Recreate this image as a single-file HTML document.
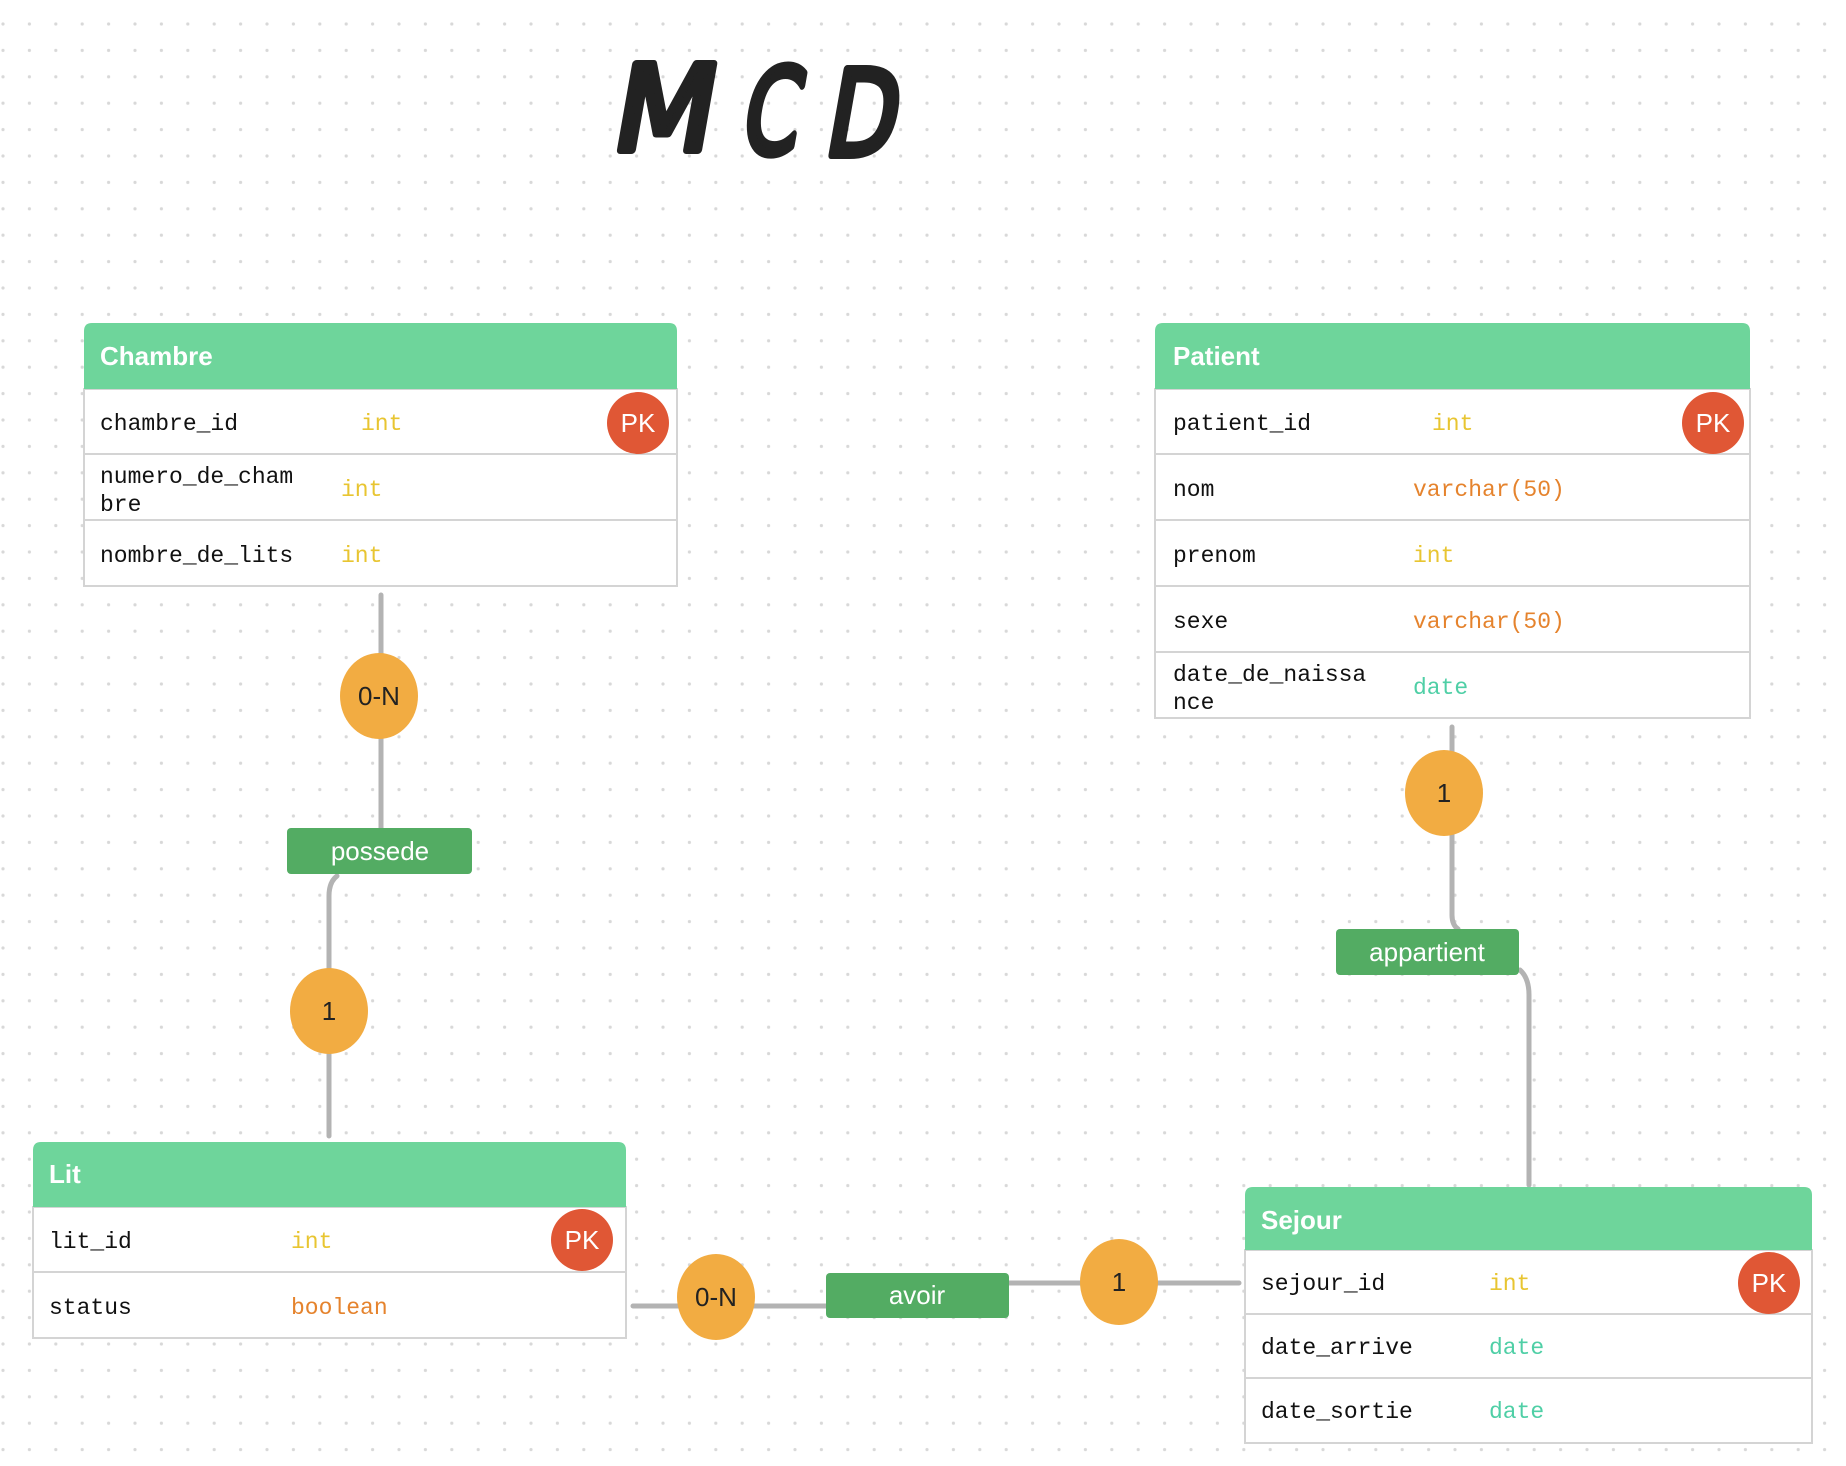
<!DOCTYPE html>
<html><head><meta charset="utf-8"><style>
html,body{margin:0;padding:0;background:#fff;}
svg{display:block;}
.h{font-family:"Liberation Sans",sans-serif;font-weight:bold;font-size:26px;fill:#fff;}
.f{font-family:"Liberation Mono",monospace;font-size:23px;fill:#111;}
.i{fill:#e8c531;} .v{fill:#e5832d;} .d{fill:#4fcfa6;}
.pk{font-family:"Liberation Sans",sans-serif;font-size:26px;fill:#fff;text-anchor:middle;}
.c{font-family:"Liberation Sans",sans-serif;font-size:26px;fill:#222;text-anchor:middle;}
.l{font-family:"Liberation Sans",sans-serif;font-size:26px;fill:#fff;text-anchor:middle;}
.ln{stroke:#b3b3b3;stroke-width:5;fill:none;stroke-linecap:round;}
.row{fill:#fff;stroke:#d4d4d4;stroke-width:2;}
</style></head><body>
<svg width="1846" height="1466" viewBox="0 0 1846 1466" xmlns="http://www.w3.org/2000/svg">
<defs><pattern id="dots" x="3" y="24" width="26.4" height="26.4" patternUnits="userSpaceOnUse"><circle cx="0" cy="0" r="1.6" fill="#d8d8d8"/><circle cx="26.4" cy="0" r="1.6" fill="#d8d8d8"/><circle cx="0" cy="26.4" r="1.6" fill="#d8d8d8"/><circle cx="26.4" cy="26.4" r="1.6" fill="#d8d8d8"/></pattern></defs>
<rect width="1846" height="1466" fill="url(#dots)"/>

<!-- title -->
<g font-family="DejaVu Sans,sans-serif" font-weight="normal" fill="#222" stroke="#222" stroke-width="8" stroke-linejoin="round" stroke-linecap="round">
<text x="610" y="150" font-size="118" textLength="100" lengthAdjust="spacingAndGlyphs" transform="skewX(-10) translate(26,0)">M</text>
<text x="740" y="153" font-size="118" textLength="56" lengthAdjust="spacingAndGlyphs" transform="skewX(-10) translate(26,0)">C</text>
<text x="824" y="155" font-size="118" textLength="70" lengthAdjust="spacingAndGlyphs" transform="skewX(-10) translate(26,0)">D</text>
</g>

<!-- connectors -->
<path class="ln" d="M381 595 V828"/>
<path class="ln" d="M337 876 Q329 882 329 896 V1136"/>
<path class="ln" d="M1452 727 V915 Q1452 925 1458 929"/>
<path class="ln" d="M1520 970 Q1529 978 1529 995 V1185"/>
<path class="ln" d="M633 1306 H826"/>
<path class="ln" d="M1009 1283 H1239"/>

<ellipse cx="379" cy="696" rx="39" ry="43" fill="#f2ac42"/><text class="c" x="379" y="705">0-N</text>
<ellipse cx="329" cy="1011" rx="39" ry="43" fill="#f2ac42"/><text class="c" x="329" y="1020">1</text>
<ellipse cx="1444" cy="793" rx="39" ry="43" fill="#f2ac42"/><text class="c" x="1444" y="802">1</text>
<ellipse cx="716" cy="1297" rx="39" ry="43" fill="#f2ac42"/><text class="c" x="716" y="1306">0-N</text>
<ellipse cx="1119" cy="1282" rx="39" ry="43" fill="#f2ac42"/><text class="c" x="1119" y="1291">1</text>

<rect x="287" y="828" width="185" height="46" rx="4" fill="#53ac63"/><text class="l" x="380" y="860">possede</text>
<rect x="1336" y="929" width="183" height="46" rx="4" fill="#53ac63"/><text class="l" x="1427" y="961">appartient</text>
<rect x="826" y="1273" width="183" height="45" rx="4" fill="#53ac63"/><text class="l" x="917" y="1304">avoir</text>

<!-- Chambre -->
<rect class="row" x="84" y="389" width="593" height="197"/>
<path d="M84 454 H677 M84 520 H677" stroke="#d4d4d4" stroke-width="2"/>
<path d="M84 389 V331 Q84 323 92 323 H669 Q677 323 677 331 V389 Z" fill="#6ed59b"/>
<text class="h" x="100" y="365">Chambre</text>
<text class="f" x="100" y="430">chambre_id</text><text class="f i" x="361" y="430">int</text>
<circle cx="638" cy="423" r="31" fill="#e05735"/><text class="pk" x="638" y="432">PK</text>
<text class="f" x="100" y="483">numero_de_cham</text><text class="f" x="100" y="511">bre</text><text class="f i" x="341" y="496">int</text>
<text class="f" x="100" y="562">nombre_de_lits</text><text class="f i" x="341" y="562">int</text>

<!-- Patient -->
<rect class="row" x="1155" y="389" width="595" height="329"/>
<path d="M1155 454 H1750 M1155 520 H1750 M1155 586 H1750 M1155 652 H1750" stroke="#d4d4d4" stroke-width="2"/>
<path d="M1155 389 V331 Q1155 323 1163 323 H1742 Q1750 323 1750 331 V389 Z" fill="#6ed59b"/>
<text class="h" x="1173" y="365">Patient</text>
<text class="f" x="1173" y="430">patient_id</text><text class="f i" x="1432" y="430">int</text>
<circle cx="1713" cy="423" r="31" fill="#e05735"/><text class="pk" x="1713" y="432">PK</text>
<text class="f" x="1173" y="496">nom</text><text class="f v" x="1413" y="496">varchar(50)</text>
<text class="f" x="1173" y="562">prenom</text><text class="f i" x="1413" y="562">int</text>
<text class="f" x="1173" y="628">sexe</text><text class="f v" x="1413" y="628">varchar(50)</text>
<text class="f" x="1173" y="681">date_de_naissa</text><text class="f" x="1173" y="709">nce</text><text class="f d" x="1413" y="694">date</text>

<!-- Lit -->
<rect class="row" x="33" y="1207" width="593" height="131"/>
<path d="M33 1272 H626" stroke="#d4d4d4" stroke-width="2"/>
<path d="M33 1207 V1150 Q33 1142 41 1142 H618 Q626 1142 626 1150 V1207 Z" fill="#6ed59b"/>
<text class="h" x="49" y="1183">Lit</text>
<text class="f" x="49" y="1248">lit_id</text><text class="f i" x="291" y="1248">int</text>
<circle cx="582" cy="1240" r="31" fill="#e05735"/><text class="pk" x="582" y="1249">PK</text>
<text class="f" x="49" y="1314">status</text><text class="f v" x="291" y="1314">boolean</text>

<!-- Sejour -->
<rect class="row" x="1245" y="1250" width="567" height="193"/>
<path d="M1245 1314 H1812 M1245 1378 H1812" stroke="#d4d4d4" stroke-width="2"/>
<path d="M1245 1250 V1195 Q1245 1187 1253 1187 H1804 Q1812 1187 1812 1195 V1250 Z" fill="#6ed59b"/>
<text class="h" x="1261" y="1229">Sejour</text>
<text class="f" x="1261" y="1290">sejour_id</text><text class="f i" x="1489" y="1290">int</text>
<circle cx="1769" cy="1283" r="31" fill="#e05735"/><text class="pk" x="1769" y="1292">PK</text>
<text class="f" x="1261" y="1354">date_arrive</text><text class="f d" x="1489" y="1354">date</text>
<text class="f" x="1261" y="1418">date_sortie</text><text class="f d" x="1489" y="1418">date</text>
</svg>
</body></html>
